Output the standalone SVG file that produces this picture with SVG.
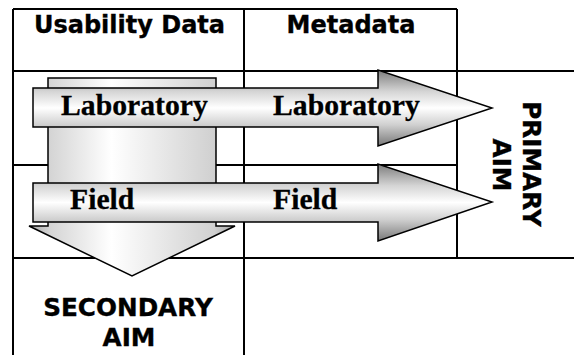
<svg xmlns="http://www.w3.org/2000/svg" width="574" height="355" viewBox="0 0 574 355">
  <style>
    .grid { stroke: #000; stroke-width: 2; fill: none; }
    .arrow { stroke: #000; stroke-width: 1.5; stroke-linejoin: miter; }
    .hdr { font-family: "DejaVu Sans", Verdana, sans-serif; font-weight: bold; font-size: 24px; fill: #000; stroke: #000; stroke-width: 0.35; text-anchor: middle; }
    .aim { font-size: 24.7px; }
    .lbl { font-family: "Liberation Serif", "Times New Roman", serif; font-weight: bold; font-size: 29.7px; fill: #000; stroke: #000; stroke-width: 0.3; }
  </style>
  <defs>
    <linearGradient id="gh" x1="0" y1="0" x2="0" y2="1">
      <stop offset="0" stop-color="#7c7c7c"/>
      <stop offset="0.28" stop-color="#d4d4d4"/>
      <stop offset="0.5" stop-color="#ffffff"/>
      <stop offset="0.72" stop-color="#d0d0d0"/>
      <stop offset="1" stop-color="#787878"/>
    </linearGradient>
    <linearGradient id="gv" x1="0" y1="0" x2="1" y2="0">
      <stop offset="0" stop-color="#a8a8a8"/>
      <stop offset="0.1" stop-color="#d4d4d4"/>
      <stop offset="0.4" stop-color="#ffffff"/>
      <stop offset="0.9" stop-color="#d0d0d0"/>
      <stop offset="1" stop-color="#a4a4a4"/>
    </linearGradient>
  </defs>

  <g id="table" class="grid">
    <line x1="13" y1="9" x2="457" y2="9"/>
    <line x1="13" y1="71" x2="574" y2="71"/>
    <line x1="13" y1="165" x2="457" y2="165"/>
    <line x1="13" y1="258" x2="574" y2="258"/>
    <line x1="13" y1="9" x2="13" y2="355"/>
    <line x1="244" y1="9" x2="244" y2="355"/>
    <line x1="457" y1="9" x2="457" y2="258"/>
  </g>

  <g id="header-usability">
    <text class="hdr" x="129.5" y="33">Usability Data</text>
  </g>
  <g id="header-metadata">
    <text class="hdr" x="351" y="33">Metadata</text>
  </g>

  <g id="connectors">
    <path id="arrow-secondary" class="arrow" fill="url(#gv)" d="M48,78 H216 V226 H235 L132,276 L29,226 H48 Z"/>
    <path id="arrow-laboratory" class="arrow" fill="url(#gh)" d="M33,88 H378 V70 L492,108 L378,146 V127 H33 Z"/>
    <path id="arrow-field" class="arrow" fill="url(#gh)" d="M33,183 H378 V164 L492,202 L378,241 V222 H33 Z"/>
  </g>

  <g id="label-laboratory-1"><text class="lbl" x="61" y="115">Laboratory</text></g>
  <g id="label-laboratory-2"><text class="lbl" x="273" y="115">Laboratory</text></g>
  <g id="label-field-1"><text class="lbl" x="70" y="209">Field</text></g>
  <g id="label-field-2"><text class="lbl" x="273" y="209">Field</text></g>

  <g id="primary-aim">
    <text class="hdr aim" transform="translate(523,164) rotate(90)" x="0" y="0">PRIMARY</text>
    <text class="hdr aim" transform="translate(493,165) rotate(90)" x="0" y="0">AIM</text>
  </g>

  <g id="secondary-aim">
    <text class="hdr aim" x="128" y="316">SECONDARY</text>
    <text class="hdr aim" x="129" y="346">AIM</text>
  </g>
</svg>
